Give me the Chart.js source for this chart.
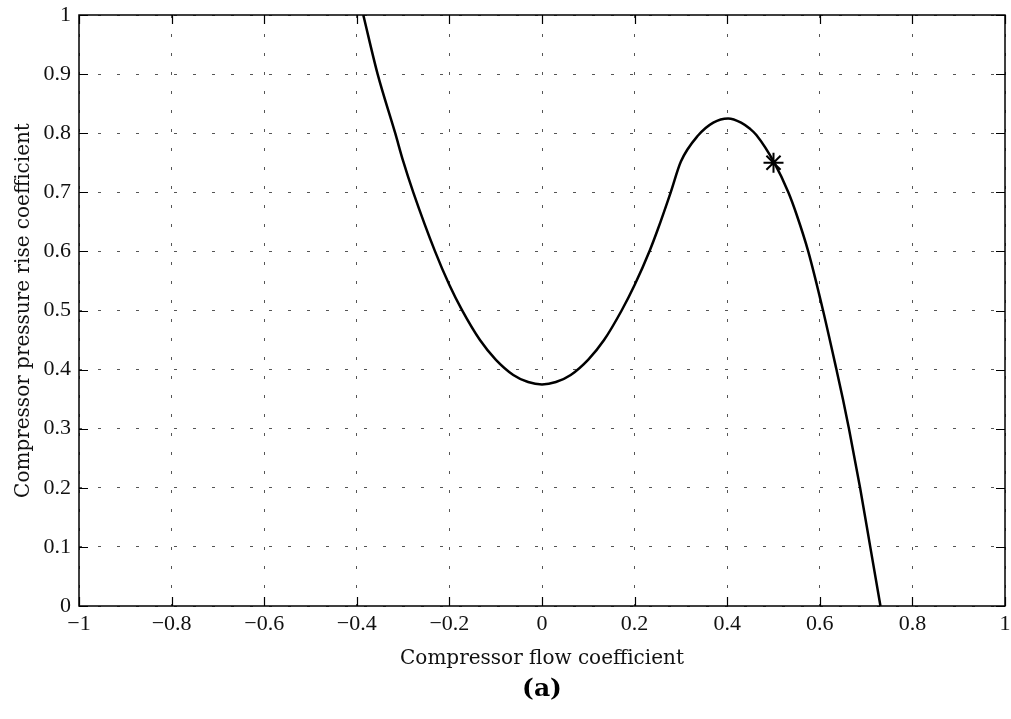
<!DOCTYPE html>
<html>
<head>
<meta charset="utf-8">
<title>Compressor characteristic</title>
<script src="https://cdn.jsdelivr.net/npm/chart.js@4/dist/chart.umd.min.js"></script>
<style>
    html, body { margin: 0; padding: 0; background: #fff; }
    #wrap { width: 1011px; height: 719px; }
</style>
</head>
<body>
<div id="wrap"><canvas id="grafico"></canvas></div>
<script>
// Datos
const flowCoef = [-0.386, -0.355, -0.317, -0.3, -0.278, -0.231, -0.2, -0.173, -0.134, -0.1, -0.062, -0.03, 0,
    0.03, 0.062, 0.1, 0.134, 0.172, 0.2, 0.233, 0.25, 0.278, 0.3, 0.337, 0.37, 0.402, 0.43, 0.45, 0.463, 0.501,
    0.532, 0.55, 0.575, 0.607, 0.636, 0.65, 0.663, 0.687, 0.709, 0.731];
const pressureCoef = [1.0, 0.9, 0.8, 0.753, 0.7, 0.6, 0.543, 0.501, 0.45, 0.417, 0.391, 0.379, 0.375,
    0.379, 0.391, 0.417, 0.45, 0.5, 0.543, 0.602, 0.637, 0.7, 0.752, 0.796, 0.818, 0.825, 0.818, 0.807, 0.797, 0.751,
    0.7, 0.662, 0.6, 0.5, 0.4, 0.35, 0.3, 0.2, 0.1, 0.0];
const operatingPoint = [0.5, 0.75];
const xTicks = [-1, -0.8, -0.6, -0.4, -0.2, 0, 0.2, 0.4, 0.6, 0.8, 1];
const yTicks = [0, 0.1, 0.2, 0.3, 0.4, 0.5, 0.6, 0.7, 0.8, 0.9, 1];

const serif = '"Liberation Serif", "DejaVu Serif", serif';
const wideSerif = '"DejaVu Serif", "Liberation Serif", serif';

function fmt(v) {
    const r = Math.round(v * 10) / 10;
    if (r === 0) return '0';
    return (r < 0 ? '\u2212' : '') + String(Math.abs(r));
}

// Marcas hacia adentro, caja y rótulo (a)
const boxTicks = {
    id: 'boxTicks',
    afterDraw(chart) {
        const { ctx, chartArea: a, scales } = chart;
        const len = 9;
        ctx.save();
        ctx.strokeStyle = '#000';
        ctx.lineWidth = 1.2;
        ctx.beginPath();
        xTicks.forEach(v => {
            const px = Math.round(scales.x.getPixelForValue(v)) + 0.5;
            ctx.moveTo(px, a.bottom); ctx.lineTo(px, a.bottom - len);
            ctx.moveTo(px, a.top); ctx.lineTo(px, a.top + len);
        });
        yTicks.forEach(v => {
            const py = Math.round(scales.y.getPixelForValue(v)) + 0.5;
            ctx.moveTo(a.left, py); ctx.lineTo(a.left + len, py);
            ctx.moveTo(a.right, py); ctx.lineTo(a.right - len, py);
        });
        ctx.stroke();
        ctx.lineWidth = 1.5;
        ctx.strokeRect(a.left, a.top, a.right - a.left, a.bottom - a.top);

        ctx.fillStyle = '#000';
        ctx.font = 'bold 25px ' + wideSerif;
        ctx.textAlign = 'center';
        ctx.textBaseline = 'middle';
        ctx.fillText('(a)', (a.left + a.right) / 2, a.bottom + 83);
        ctx.restore();
    }
};

const ctx = document.getElementById('grafico').getContext('2d');
new Chart(ctx, {
    type: 'scatter',
    data: {
        datasets: [{
            data: flowCoef.map((x, i) => ({ x: x, y: pressureCoef[i] })),
            showLine: true,
            borderColor: '#000',
            borderWidth: 2.5,
            pointRadius: 0,
            cubicInterpolationMode: 'monotone',
            fill: false
        }, {
            data: [{ x: operatingPoint[0], y: operatingPoint[1] }],
            pointStyle: 'star',
            pointRadius: 10,
            borderColor: '#000',
            borderWidth: 2,
            backgroundColor: '#000'
        }]
    },
    options: {
        responsive: true,
        maintainAspectRatio: false,
        animation: false,
        layout: { autoPadding: false, padding: { left: 0, right: 6, top: 15, bottom: 45 } },
        plugins: {
            legend: { display: false },
            tooltip: { enabled: false }
        },
        scales: {
            x: {
                type: 'linear',
                min: -1,
                max: 1,
                afterFit: s => { s.height = 68; s.paddingLeft = 0; s.paddingRight = 0; },
                afterBuildTicks: s => { s.ticks = xTicks.map(v => ({ value: v })); },
                ticks: {
                    callback: v => fmt(v),
                    color: '#111',
                    padding: 5,
                    maxRotation: 0,
                    font: { family: serif, size: 22 }
                },
                grid: { color: '#555', lineWidth: 1, drawTicks: false },
                border: { display: false, dash: [3, 16] },
                title: {
                    display: true,
                    text: 'Compressor flow coefficient',
                    color: '#111',
                    font: { family: wideSerif, size: 20 },
                    padding: { top: 0, bottom: 3 }
                }
            },
            y: {
                type: 'linear',
                min: 0,
                max: 1,
                afterFit: s => { s.width = 79; s.paddingTop = 0; s.paddingBottom = 0; },
                afterBuildTicks: s => { s.ticks = yTicks.map(v => ({ value: v })); },
                ticks: {
                    callback: v => fmt(v),
                    color: '#111',
                    padding: 8,
                    font: { family: serif, size: 22 }
                },
                grid: { color: '#555', lineWidth: 1, drawTicks: false },
                border: { display: false, dash: [3, 16] },
                title: {
                    display: true,
                    text: 'Compressor pressure rise coefficient',
                    color: '#111',
                    font: { family: wideSerif, size: 20 },
                    padding: { top: 12, bottom: 0 }
                }
            }
        }
    },
    plugins: [boxTicks]
});
</script>
</body>
</html>
